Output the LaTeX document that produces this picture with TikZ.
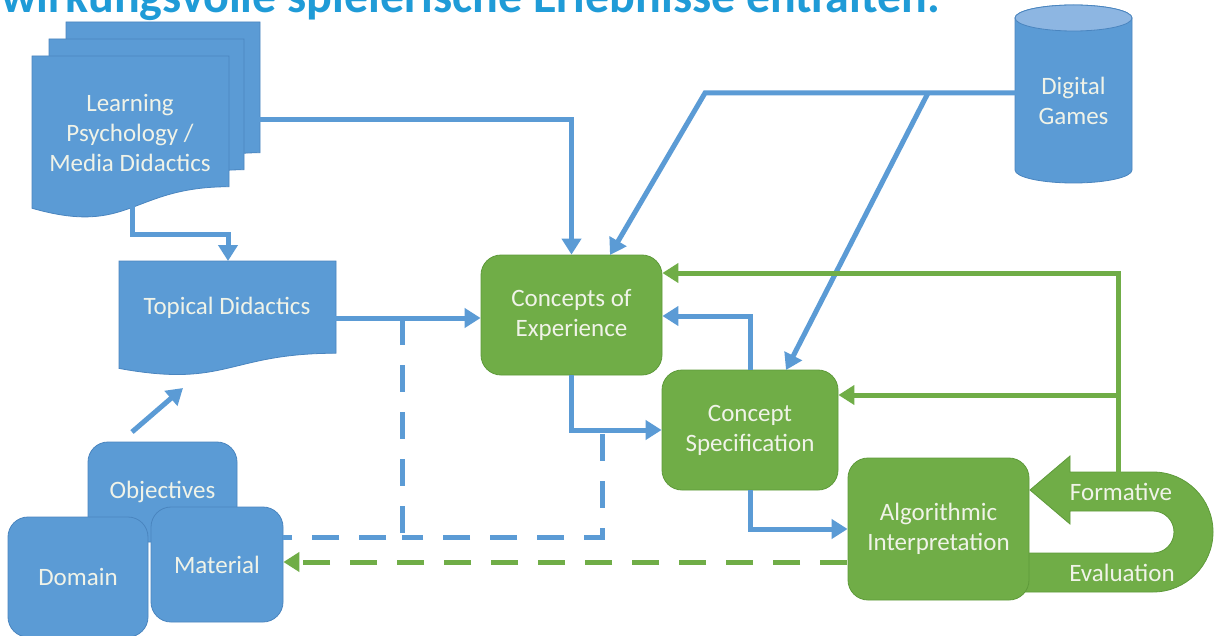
\documentclass[tikz,border=0pt]{standalone}
\usepackage{fontspec}
\setmainfont{Carlito}
\usetikzlibrary{arrows.meta,calc}
\definecolor{bfill}{HTML}{5B9BD5}
\definecolor{bline}{HTML}{4A85BF}
\definecolor{btop}{HTML}{8DB6E2}
\definecolor{gfill}{HTML}{70AD47}
\definecolor{gline}{HTML}{5E9A3A}
\definecolor{txt}{HTML}{F0F3E8}
\definecolor{ttl}{HTML}{1F9BD7}
\newcommand\mydoc[4]{%
  \path[fill=bfill,draw=bline,line width=0.8pt] (#1,#2) -- (#3,#2) -- (#3,{#2+0.802*#4})
    .. controls ({(#1+#3)/2},{#2+0.802*#4}) and ({(#1+#3)/2},{#2+1.107*#4}) .. (#1,{#2+0.934*#4}) -- cycle;}
\tikzset{
  lbl/.style={text=txt,font=\fontsize{25}{30}\selectfont,align=center,inner sep=0pt},
  bbox/.style={lbl,fill=bfill,draw=bline,line width=0.8pt,rounded corners=20pt},
  gbox/.style={lbl,fill=gfill,draw=gline,line width=0.8pt,rounded corners=20pt},
  tip/.style={-{Triangle[length=16pt,width=19pt]}},
  barrow/.style={draw=bfill,line width=5pt,tip},
  garrow/.style={draw=gfill,line width=5pt,tip},
  bdash/.style={draw=bfill,line width=5pt,dash pattern=on 27pt off 20pt},
  gdash/.style={draw=gfill,line width=5pt,dash pattern=on 27pt off 20pt,tip},
}
\begin{document}
\begin{tikzpicture}[x=1pt,y=-1pt]
\useasboundingbox (0,0) rectangle (1214,636);
\fill[white] (0,0) rectangle (1214,636);

% title (cut off at top, as in the reference)
\node[anchor=base west,inner sep=0pt,text=ttl,font=\fontsize{48}{48}\selectfont\bfseries] (title) at (1,13) {wirkungsvolle spielerische Erlebnisse entfalten.};

% multi-document: Learning Psychology / Media Didactics
\mydoc{66}{22}{260}{163}
\mydoc{49}{39}{244}{163}
\mydoc{32}{56}{229}{163}
\node[lbl] (lp) at (130,133) {Learning\\Psychology /\\Media Didactics};
\coordinate (lpR) at (258,120);
\coordinate (lpB) at (132,200);

% Topical Didactics document
\mydoc{119}{261}{336}{115}
\node[lbl] (td) at (227,308) {Topical Didactics};
\coordinate (tdT) at (228,261);
\coordinate (tdR) at (334,318);

% Digital Games cylinder
\path[fill=bfill,draw=bline,line width=0.8pt] (1015,18) -- (1015,170)
  arc[start angle=180,end angle=360,x radius=58.5pt,y radius=13pt] -- (1132,18)
  arc[start angle=0,end angle=180,x radius=58.5pt,y radius=13pt] -- cycle;
\path[fill=btop,draw=bline,line width=0.8pt] (1073.5,18) ellipse[x radius=58.5pt,y radius=13pt];
\node[lbl] (dg) at (1073.5,101) {Digital\\Games};
\coordinate (dgW) at (1016,93);
\coordinate (dgA) at (705,93);
\coordinate (dgB) at (928,93);

% Formative evaluation U-turn arrow
\path[fill=gfill,draw=gline,line width=0.8pt] (1025,553) -- (1153,553)
  arc[start angle=-90,end angle=90,radius=21pt] -- (1070,511) -- (1070,524) -- (1030,490)
  -- (1070,456) -- (1070,472) -- (1153,472)
  arc[start angle=90,end angle=-90,radius=60pt] -- (1025,592) -- cycle;
\node[lbl] (fo) at (1121,492) {Formative};
\node[lbl] (ev) at (1122,573) {Evaluation};
\coordinate (uT) at (1118,474);
\coordinate (g1) at (1118,273);
\coordinate (g2) at (1118,395);

% green process boxes
\node[gbox,minimum width=181pt,minimum height=120pt] (coe) at (571.5,315) {Concepts of\\Experience};
\node[gbox,minimum width=176pt,minimum height=120pt] (cs) at (750,430) {Concept\\Specification};
\node[gbox,minimum width=181pt,minimum height=142pt] (ai) at (938.5,529) {Algorithmic\\Interpretation};

% bottom-left blocks
\node[bbox,minimum width=149pt,minimum height=100pt] (obj) at (162.5,492) {Objectives};
\node[bbox,minimum width=140pt,minimum height=120pt] (dom) at (78,577) {Domain};
\node[bbox,minimum width=132pt,minimum height=115pt] (mat) at (217,564.5) {Material};
\coordinate (objT) at (132,432);
\coordinate (tdB) at (183,388);

% helper coordinates
\coordinate (d1) at (402,318);
\coordinate (d2) at (402,537);
\coordinate (d3) at (602,434);
\coordinate (d4) at (602,537);
\coordinate (gd) at (847,562);
\coordinate (cs1) at (750,316);
\coordinate (coeTa) at (610,255);
\coordinate (csTa) at (786,370);

% blue connectors
\draw[barrow] (lpR) -| (coe.north);
\draw[barrow] (lpB) -- (132,235) -| (tdT);
\draw[barrow] (tdR) -- (coe.west |- tdR);
\draw[barrow] (dgW) -- (dgA) -- (coeTa);
\draw[barrow] (dgB) -- (csTa);
\draw[barrow] (cs.north) -- (cs1) -- (coe.east |- cs1);
\draw[barrow] (coe.south) |- (cs.west);
\draw[barrow] (cs.south) |- (ai.west);
\draw[barrow] (objT) -- (tdB);

% dashed connectors
\draw[bdash] (d1) -- (d2) -- (mat.east |- d2);
\draw[bdash] (d3) -- (d4) -- (d2);
\draw[gdash] (gd) -- (mat.east |- gd);

% green feedback connectors
\draw[garrow] (uT) -- (g1) -- (coe.east |- g1);
\draw[garrow] (g2) -- (cs.east |- g2);
\end{tikzpicture}
\end{document}
